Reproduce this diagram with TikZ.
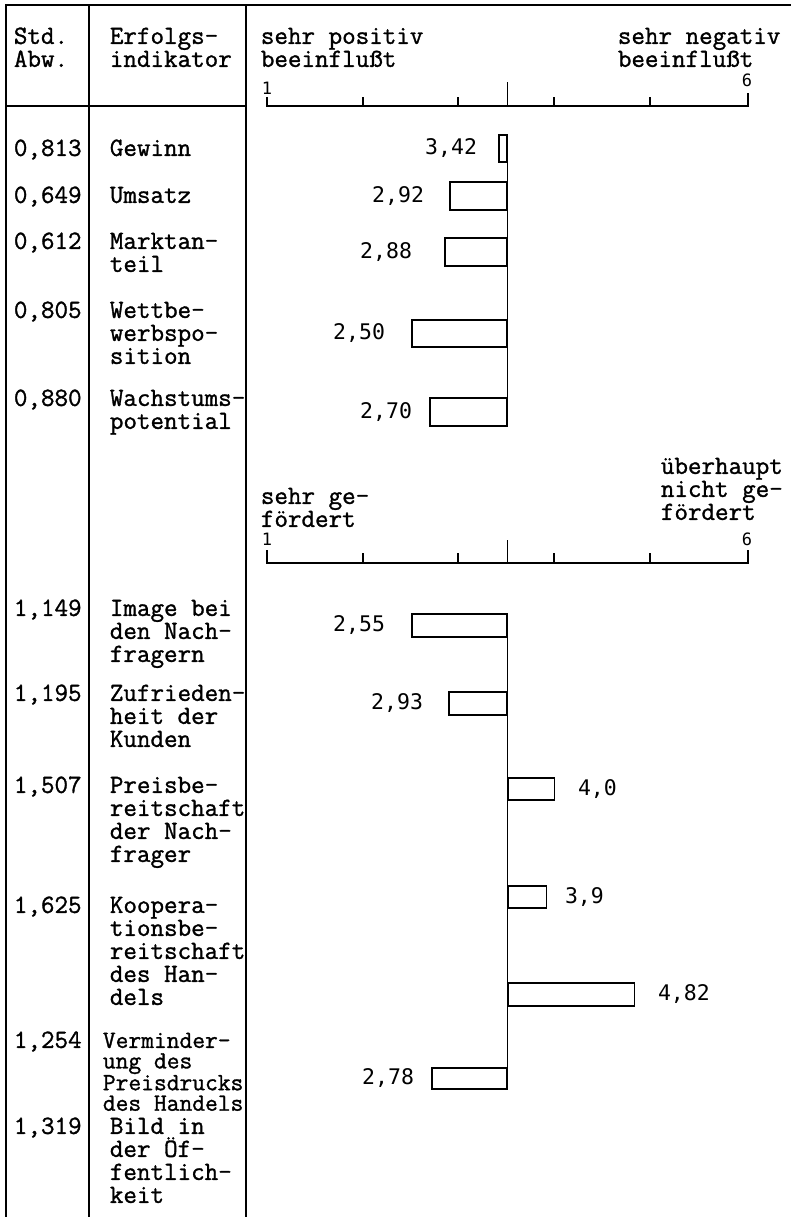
\documentclass[tikz,border=0pt]{standalone}
\usepackage{fontspec}
\usetikzlibrary{positioning}
\newfontfamily\typew{Latin Modern Mono}[FakeBold=1.2]
\newfontfamily\gothic{DejaVu Sans Mono}
\newcommand{\fl}{\rule{0pt}{20pt}}

\begin{document}
\begin{tikzpicture}[x=1pt, y=-1pt, line width=1.8pt,
    txt/.style={inner sep=0pt, anchor=north west, yshift=20pt, align=left, font=\typew\fontsize{26.3}{23}\selectfont},
    tight/.style={font=\typew\fontsize{24.8}{20.5}\selectfont},
    val/.style={inner sep=0pt, font=\gothic\fontsize{21.5}{21.5}\selectfont},
    tick/.style={inner sep=0pt, anchor=base, font=\gothic\fontsize{17}{17}\selectfont},
    bar/.style={draw, rectangle, inner sep=0pt, line width=1.6pt}]

    \useasboundingbox (0,0) rectangle (791,1217);

    % Tabellenrahmen
    \draw (5,5) -- (791,5);
    \draw (6,5) -- (6,1217) (89,5) -- (89,1217) (246,5) -- (246,1217);
    \draw (6,106) -- (246,106);

    \node[txt] (sdhead) at (13,43) {\fl Std.\\Abw.};
    \node[txt] (indhead) at (109,43) {\fl Erfolgs-\\indikator};

    % erste Skala
    \node[txt] (pos) at (260,43) {\fl sehr positiv\\beeinflußt};
    \node[txt] (neg) at (617,43) {\fl sehr negativ\\beeinflußt};
    \node[tick] (einsA) at (267,95) {1};
    \node[tick] (sechsA) at (747,87) {6};
    \draw (267,97) -- (267,106) -- (748,106) -- (748,93);
    \draw (363,106) -- ++(0,-9) (458,106) -- ++(0,-9) (554,106) -- ++(0,-9) (650,106) -- ++(0,-9)
          (507.5,106) -- ++(0,-24);

    \node[txt] (sdgewinn) at (13,155) {\fl 0,813};
    \node[txt] (gewinn) at (109,155) {\fl Gewinn};
    \node[txt] (sdumsatz) at (13,202) {\fl 0,649};
    \node[txt] (umsatz) at (109,202) {\fl Umsatz};
    \node[txt] (sdmarkt) at (13,248) {\fl 0,612};
    \node[txt] (markt) at (109,248) {\fl Marktan-\\teil};
    \node[txt] (sdwettb) at (13,317) {\fl 0,805};
    \node[txt] (wettb) at (109,317) {\fl Wettbe-\\werbspo-\\sition};
    \node[txt] (sdwachs) at (13,405) {\fl 0,880};
    \node[txt] (wachs) at (109,405) {\fl Wachstums-\\potential};

    \node[bar, minimum width=8pt, minimum height=27pt, anchor=east] (bgewinn) at (507.5,148.5) {};
    \node[bar, minimum width=57pt, minimum height=28pt, anchor=east] (bumsatz) at (507.5,196) {};
    \node[bar, minimum width=62pt, minimum height=28pt, anchor=east] (bmarkt) at (507.5,252) {};
    \node[bar, minimum width=95pt, minimum height=27pt, anchor=east] (bwettb) at (507.5,333.5) {};
    \node[bar, minimum width=77pt, minimum height=28pt, anchor=east] (bwachs) at (507.5,412) {};
    \draw (bgewinn.north east) -- (bwachs.south east);

    \node[val, left=20pt of bgewinn] (vgewinn) {3,42};
    \node[val, left=24pt of bumsatz] (vumsatz) {2,92};
    \node[val, left=31pt of bmarkt] (vmarkt) {2,88};
    \node[val, left=25pt of bwettb] (vwettb) {2,50};
    \node[val, left=16pt of bwachs] (vwachs) {2,70};

    % zweite Skala
    \node[txt] (sehrge) at (260,503) {\fl sehr ge-\\fördert};
    \node[txt] (nichtge) at (660,473) {\fl überhaupt\\nicht ge-\\fördert};
    \node[tick] (einsB) at (267,545) {1};
    \node[tick] (sechsB) at (747,545) {6};
    \draw (267,550) -- (267,563) -- (748,563) -- (748,550);
    \draw (363,563) -- ++(0,-10) (458,563) -- ++(0,-10) (554,563) -- ++(0,-10) (650,563) -- ++(0,-10)
          (507.5,563) -- ++(0,-23);

    \node[txt] (sdimage) at (13,615) {\fl 1,149};
    \node[txt] (image) at (109,615) {\fl Image bei\\den Nach-\\fragern};
    \node[txt] (sdzufr) at (13,700) {\fl 1,195};
    \node[txt] (zufr) at (109,700) {\fl Zufrieden-\\heit der\\Kunden};
    \node[txt] (sdpreis) at (13,792) {\fl 1,507};
    \node[txt] (preis) at (109,792) {\fl Preisbe-\\reitschaft\\der Nach-\\frager};
    \node[txt] (sdkoop) at (13,912) {\fl 1,625};
    \node[txt] (koop) at (109,912) {\fl Koopera-\\tionsbe-\\reitschaft\\des Han-\\dels};
    \node[txt] (sddruck) at (13,1047) {\fl 1,254};
    \node[txt, tight] (druck) at (102,1047) {\fl Verminder-\\ung des\\Preisdrucks\\des Handels};
    \node[txt] (sdbild) at (13,1133) {\fl 1,319};
    \node[txt] (bild) at (109,1133) {\fl Bild in\\der Öf-\\fentlich-\\keit};

    \node[bar, minimum width=95pt, minimum height=23pt, anchor=east] (bimage) at (507.5,625.5) {};
    \node[bar, minimum width=58pt, minimum height=23pt, anchor=east] (bzufr) at (507.5,703.5) {};
    \node[bar, minimum width=46pt, minimum height=22pt, anchor=west] (bpreis) at (507.5,789) {};
    \node[bar, minimum width=38pt, minimum height=22pt, anchor=west] (bkoop) at (507.5,897) {};
    \node[bar, minimum width=126pt, minimum height=23pt, anchor=west] (bdruck) at (507.5,994.5) {};
    \node[bar, minimum width=75pt, minimum height=21pt, anchor=east] (bbild) at (507.5,1078.5) {};
    \draw (bimage.north east) -- (bbild.south east);

    \node[val, left=25pt of bimage] (vimage) {2,55};
    \node[val, left=24pt of bzufr] (vzufr) {2,93};
    \node[val, right=22pt of bpreis] (vpreis) {4,0};
    \node[val, right=17pt of bkoop] (vkoop) {3,9};
    \node[val, right=22pt of bdruck] (vdruck) {4,82};
    \node[val, left=16pt of bbild] (vbild) {2,78};
\end{tikzpicture}
\end{document}
